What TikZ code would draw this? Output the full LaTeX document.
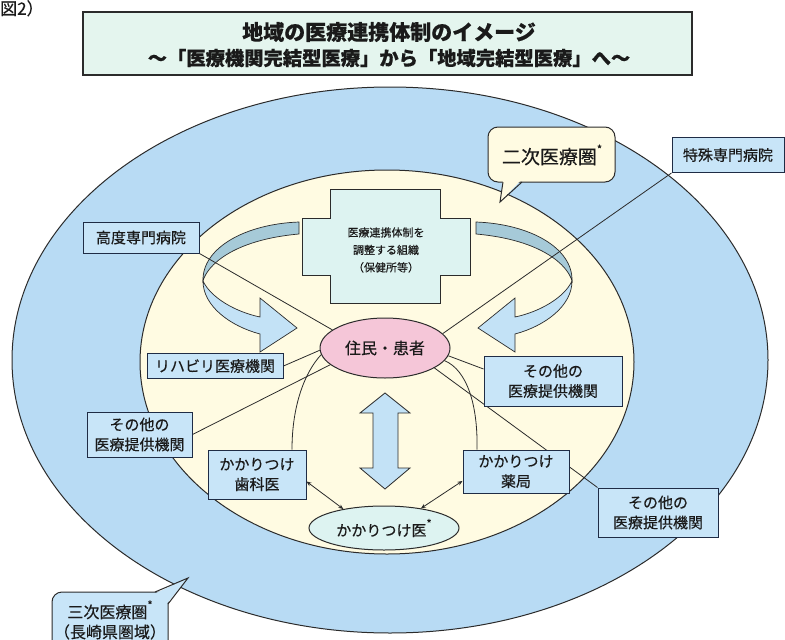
\documentclass[tikz,border=0pt]{standalone}
\usepackage{fontspec}
\newfontfamily\jp[FakeBold=0.4]{Noto Sans CJK JP}
\usetikzlibrary{shapes.geometric,arrows.meta}
\definecolor{outerblue}{HTML}{B8DBF4}
\definecolor{cream}{HTML}{FFFBE2}
\definecolor{boxblue}{HTML}{C8E5F8}
\definecolor{boxborder}{HTML}{1F2C45}
\definecolor{pinkfill}{HTML}{F5C6D8}
\definecolor{mint}{HTML}{DDF3F1}
\definecolor{titlefill}{HTML}{E4F5EE}
\definecolor{ribdark}{HTML}{A6CAD8}
\definecolor{riblight}{HTML}{C3E2F6}
\definecolor{txt}{HTML}{1A1A1A}
\definecolor{lin}{HTML}{2B2B2B}
\pgfdeclarelayer{back}
\pgfdeclarelayer{lines}
\pgfsetlayers{back,lines,main}
\newcommand\myribbon{%
  \filldraw[ribedge, fill=ribdark] (299,222) .. controls (245,224) and (202,248) .. (203,281) .. controls (207,266) and (232,240) .. (299,234) -- cycle;
  \filldraw[ribedge, fill=riblight] (203,281) .. controls (203,306) and (230,326) .. (260,334) -- (260,352) -- (297,328) -- (260,298) -- (260,317) .. controls (236,312) and (211,298) .. (203,281) -- cycle;}
\newcommand\aster{\raisebox{0.55em}{\fontsize{11}{11}\selectfont *}}
\begin{document}
\begin{tikzpicture}[x=1pt,y=-1pt,
  ribedge/.style={draw=lin, line width=0.7pt},
  bluebox/.style={draw=boxborder, fill=boxblue, line width=1pt, inner sep=0pt, align=center,
    text=txt, font=\jp\fontsize{15}{20}\selectfont},
  conn/.style={draw=lin, line width=0.8pt},
  dbl/.style={conn, {Stealth[length=5pt,width=4pt]}-{Stealth[length=5pt,width=4pt]}},
  plain/.style={text=txt, align=center, inner sep=0pt}]
\useasboundingbox (0,0) rectangle (785,640);
\begin{pgfonlayer}{back}
  \fill[white] (0,0) rectangle (785,640);
  \filldraw[fill=outerblue, draw=lin, line width=1pt] (390,360) ellipse [x radius=378, y radius=273];
  \filldraw[fill=cream, draw=lin, line width=1pt] (387,362) ellipse [x radius=247, y radius=192];
  \myribbon
  \begin{scope}[xshift=775pt, xscale=-1]
    \myribbon
  \end{scope}
\end{pgfonlayer}

% figure label and title
\node[plain, anchor=north west, font=\jp\fontsize{17}{19}\selectfont] (figlabel) at (0,0) {図2）};
\node[draw=lin, line width=1.3pt, fill=titlefill, minimum width=609pt, minimum height=63pt, inner sep=0pt] (title) at (387.5,43.5) {};
\node[plain, font=\jp\bfseries\fontsize{21}{24}\selectfont] (title1) at (389,32) {地域の医療連携体制のイメージ};
\node[plain, font=\jp\bfseries\fontsize{19.3}{22}\selectfont] (title2) at (389,58) {～「医療機関完結型医療」から「地域完結型医療」へ～};

% central cross
\filldraw[fill=mint, draw=lin, line width=1pt] (330,189) -- (440,189) -- (440,218) -- (470,218) -- (470,275) -- (440,275) -- (440,303) -- (330,303) -- (330,275) -- (302,275) -- (302,218) -- (330,218) -- cycle;
\node[plain, font=\jp\fontsize{11}{17.5}\selectfont] (coord) at (386,250) {医療連携体制を\\調整する組織\\（保健所等）};

% big double arrow
\filldraw[fill=riblight, draw=lin, line width=0.8pt] (385,393) -- (410,413) -- (398,413) -- (398,468) -- (410,468) -- (385,489) -- (360,468) -- (373,468) -- (373,413) -- (360,413) -- cycle;

% callout: secondary
\filldraw[fill=cream, draw=lin, line width=1pt, rounded corners=10pt] (488,127) rectangle (615,182);
\fill[cream] (503,179) -- (500,202) -- (522,179) -- cycle;
\draw[lin, line width=1pt] (503,182) -- (500,202) -- (522,182);
\node[plain, font=\jp\fontsize{19}{22}\selectfont] (niji) at (552,155) {二次医療圏\aster};

% callout: tertiary
\filldraw[fill=boxblue, draw=lin, line width=1pt, rounded corners=10pt] (52,592) rectangle (168,662);
\fill[boxblue] (155,593.5) -- (188,578) -- (166.5,604) -- cycle;
\draw[lin, line width=1pt] (155,592) -- (188,578) -- (168,604);
\node[plain, font=\jp\fontsize{16}{20}\selectfont] (sanji) at (110,620) {三次医療圏\aster\\（長崎県圏域）};

% boxes
\node[bluebox, minimum width=116pt, minimum height=31pt] (koudo) at (141,237.5) {高度専門病院};
\node[bluebox, minimum width=112pt, minimum height=35pt] (tokushu) at (728,155) {特殊専門病院};
\node[bluebox, minimum width=136pt, minimum height=25pt] (riha) at (215,366) {リハビリ医療機関};
\node[bluebox, minimum width=105pt, minimum height=45pt] (lsonota) at (139.5,434.5) {その他の\\医療提供機関};
\node[bluebox, minimum width=138pt, minimum height=50pt] (rsonota) at (553,381) {その他の\\医療提供機関};
\node[bluebox, minimum width=120pt, minimum height=49pt] (frsonota) at (658,512.5) {その他の\\医療提供機関};
\node[bluebox, minimum width=98pt, minimum height=49pt] (dental) at (257,474.5) {かかりつけ\\歯科医};
\node[bluebox, minimum width=106pt, minimum height=43pt] (pharm) at (516,471.5) {かかりつけ\\薬局};

% ellipses
\node[ellipse, draw=lin, line width=1pt, fill=pinkfill, minimum width=130pt, minimum height=60pt, inner sep=0pt, text=txt, font=\jp\fontsize{16}{18}\selectfont] (patient) at (385,348) {住民・患者};
\node[ellipse, draw=lin, line width=1pt, fill=mint, minimum width=150pt, minimum height=44pt, inner sep=0pt, text=txt, font=\jp\fontsize{15}{18}\selectfont] (doctor) at (384,528) {かかりつけ医\aster};

% connectors
\begin{pgfonlayer}{lines}
  \draw[conn] (koudo.south east) -- (patient.161);
  \draw[conn] (tokushu.south west) -- (patient.14);
  \draw[conn] (riha.east) -- (patient.182);
  \draw[conn] (lsonota.east) -- (patient.197);
  \draw[conn] ([yshift=12pt]rsonota.west) -- (patient.-7);
  \draw[conn] (frsonota.north west) -- (patient.-22);
  \draw[conn] (patient.186) .. controls (305,372) and (292,405) .. ([xshift=35pt]dental.north);
  \draw[conn] (patient.-12) .. controls (467,370) and (478,405) .. ([xshift=-39pt]pharm.north);
\end{pgfonlayer}
\draw[dbl] (dental.-8) -- (doctor.155);
\draw[dbl] (pharm.190) -- (doctor.28);
\end{tikzpicture}
\end{document}
